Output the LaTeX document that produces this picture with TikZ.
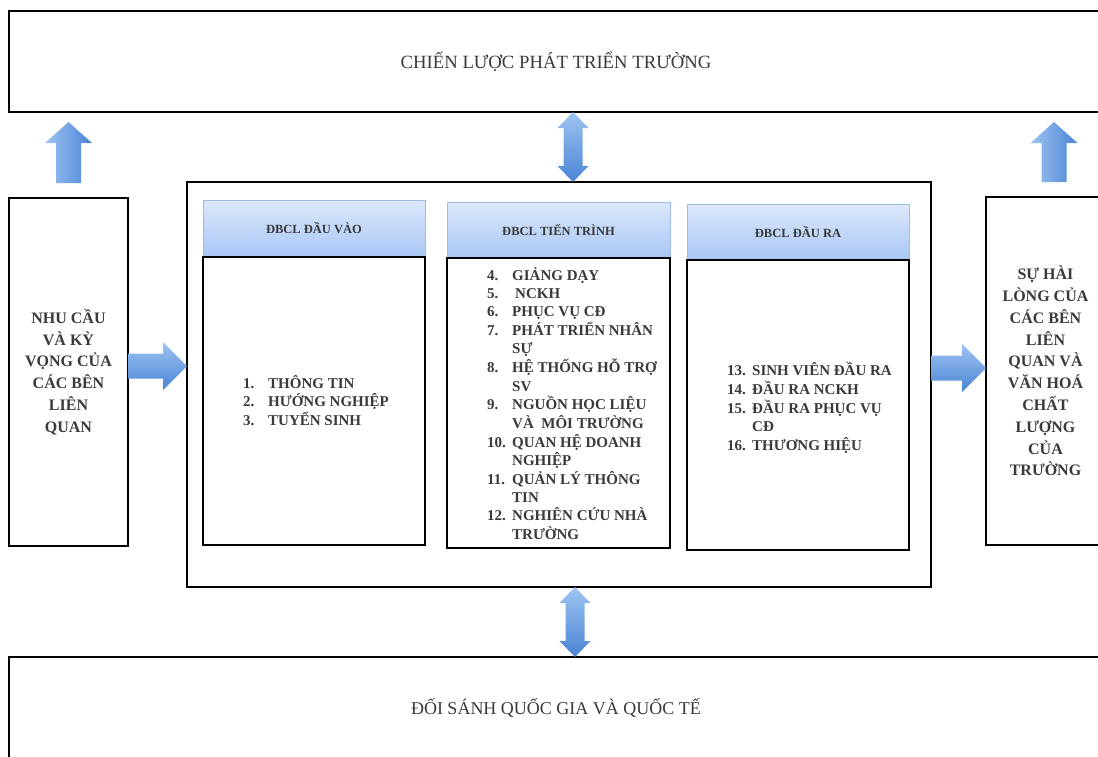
\documentclass[tikz,border=0pt]{standalone}
\usepackage{fontspec}
\setmainfont{Liberation Serif}
\usetikzlibrary{calc}
\definecolor{arrL}{HTML}{9EC4F2}
\definecolor{arrD}{HTML}{4A84D4}
\definecolor{hdrT}{HTML}{DCE8FB}
\definecolor{hdrB}{HTML}{A8C6F5}
\definecolor{hdrE}{HTML}{9DBBE3}
\definecolor{txt}{HTML}{3A3A3A}
\newcommand\lstab[1]{\begin{tabular}{@{}p{25pt}@{}l@{}}#1\end{tabular}}
\newcommand\HArw[2]{%
  \path[harrow] ($(#1)+(0,-12.5)$) -- ($(#2)+(-24,-12.5)$) -- ($(#2)+(-24,-24)$) -- (#2)
    -- ($(#2)+(-24,24)$) -- ($(#2)+(-24,12.5)$) -- ($(#1)+(0,12.5)$) -- cycle;}
\newcommand\UArw[2]{%
  \path[uarrow] ($(#1)+(-12.5,0)$) -- ($(#2)+(-12.5,21)$) -- ($(#2)+(-23.5,21)$) -- (#2)
    -- ($(#2)+(23.5,21)$) -- ($(#2)+(12.5,21)$) -- ($(#1)+(12.5,0)$) -- cycle;}
\newcommand\DArw[2]{%
  \path[harrow] (#1) -- ($(#1)+(15.5,16)$) -- ($(#1)+(9.5,16)$) -- ($(#2)+(9.5,-16)$)
    -- ($(#2)+(15.5,-16)$) -- (#2) -- ($(#2)+(-15.5,-16)$) -- ($(#2)+(-9.5,-16)$)
    -- ($(#1)+(-9.5,16)$) -- ($(#1)+(-15.5,16)$) -- cycle;}
\tikzset{
  box/.style={draw=black, line width=1.8pt, inner sep=0pt, outer sep=0pt, fill=white},
  hdr/.style={draw=hdrE, line width=0.6pt, top color=hdrT, bottom color=hdrB,
    inner sep=0pt, outer sep=0pt, text=txt, font=\fontsize{12.5}{14}\selectfont\bfseries},
  title/.style={text=txt, font=\fontsize{18}{20}\selectfont},
  sidetxt/.style={text=txt, align=center, font=\fontsize{16}{21.8}\selectfont\bfseries},
  listtxt/.style={text=txt, inner sep=0pt, anchor=north west, font=\fontsize{15}{18.3}\selectfont\bfseries},
  harrow/.style={top color=arrL, bottom color=arrD},
  uarrow/.style={left color=arrL, right color=arrD},
}
\begin{document}
\begin{tikzpicture}[x=1pt,y=-1pt]
\useasboundingbox (0,0) rectangle (1098,756);
\clip (0,0) rectangle (1098,756);
% outer boxes
\node[box, minimum width=1101, minimum height=101] (T) at (559.5,61.5) {};
\node[title, font=\fontsize{18.7}{20}\selectfont] (Tt) at (556,62) {CHIẾN LƯỢC PHÁT TRIỂN TRƯỜNG};
\node[box, minimum width=1101, minimum height=113] (B) at (559.5,713.5) {};
\node[title] (Bt) at (556,708) {ĐỐI SÁNH QUỐC GIA VÀ QUỐC TẾ};
\node[box, minimum width=119, minimum height=348, sidetxt] (L) at (68.5,372)
  {NHU CẦU\\VÀ KỲ\\VỌNG CỦA\\CÁC BÊN\\LIÊN\\QUAN};
\node[box, minimum width=119, minimum height=348, sidetxt] (R) at (1045.5,371)
  {SỰ HÀI\\LÒNG CỦA\\CÁC BÊN\\LIÊN\\QUAN VÀ\\VĂN HOÁ\\CHẤT\\LƯỢNG\\CỦA\\TRƯỜNG};
\node[box, minimum width=744, minimum height=405] (M) at (559,384.5) {};
% columns
\node[hdr, minimum width=222, minimum height=57] (H1) at (314,228.5) {ĐBCL ĐẦU VÀO};
\node[box, minimum width=222, minimum height=288] (C1) at (314,401) {};
\node[hdr, minimum width=223, minimum height=56] (H2) at (558.5,230) {ĐBCL TIẾN TRÌNH};
\node[box, minimum width=223, minimum height=290] (C2) at (558.5,403) {};
\node[hdr, minimum width=222, minimum height=56] (H3) at (798,232) {ĐBCL ĐẦU RA};
\node[box, minimum width=222, minimum height=290] (C3) at (798,405) {};
% lists
\node[listtxt] (l1) at (243,375) {\lstab{1. & THÔNG TIN\\ 2. & HƯỚNG NGHIỆP\\ 3. & TUYỂN SINH}};
\node[listtxt] (l2) at (487,267) {\lstab{4. & GIẢNG DẠY\\ 5. & \hspace{3pt}NCKH\\ 6. & PHỤC VỤ CĐ\\
  7. & PHÁT TRIỂN NHÂN\\ & SỰ\\ 8. & HỆ THỐNG HỖ TRỢ\\ & SV\\ 9. & NGUỒN HỌC LIỆU\\
  & VÀ\ \ MÔI TRƯỜNG\\ 10. & QUAN HỆ DOANH\\ & NGHIỆP\\ 11. & QUẢN LÝ THÔNG\\ & TIN\\
  12. & NGHIÊN CỨU NHÀ\\ & TRƯỜNG}};
\node[listtxt] (l3) at (727,362) {\lstab{13. & SINH VIÊN ĐẦU RA\\ 14. & ĐẦU RA NCKH\\
  15. & ĐẦU RA PHỤC VỤ\\ & CĐ\\ 16. & THƯƠNG HIỆU}};
% helper coordinates
\coordinate (ya) at (0,366);
\coordinate (yb) at (0,368);
\coordinate (xr) at (1054,0);
\coordinate (xd) at (573,0);
\coordinate (xe) at (575,0);
% arrows
\HArw{L.east |- ya}{M.west |- ya}
\HArw{M.east |- yb}{R.west |- yb}
\UArw{$(L.north)+(0,-15)$}{$(T.south -| L.north)+(0,10)$}
\UArw{$(R.north -| xr)+(0,-15)$}{$(T.south -| xr)+(0,10)$}
\DArw{T.south -| xd}{M.north -| xd}
\DArw{M.south -| xe}{B.north -| xe}
\end{tikzpicture}
\end{document}
